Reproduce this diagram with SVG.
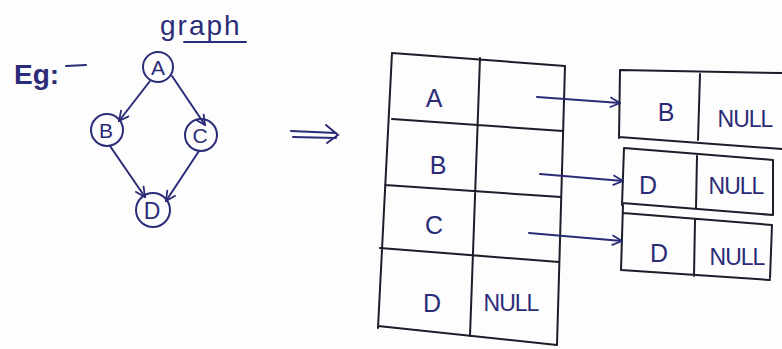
<svg xmlns="http://www.w3.org/2000/svg" width="782" height="349" viewBox="0 0 782 349">
<defs>
<style>
.ink{fill:none;stroke:#2b2c78;stroke-width:2;stroke-linecap:round}
.pen{fill:none;stroke:#1c1c2a;stroke-width:2;stroke-linecap:round}
.t{font-family:"Liberation Sans",Arial,sans-serif;fill:#2b2c78}
.big{font-size:25px}
.nul{font-size:23px;letter-spacing:-1px}
</style>
<marker id="ah" viewBox="0 0 12 12" refX="11" refY="6" markerWidth="12" markerHeight="12" markerUnits="userSpaceOnUse" orient="auto">
<path d="M1,1 L11,6 L1,11" fill="none" stroke="#2b2c78" stroke-width="1.8"/>
</marker>
</defs>
<rect width="782" height="349" fill="#fdfdfd"/>
<text class="t" x="14" y="84" font-size="28" font-weight="bold">Eg:</text>
<path class="ink" d="M66,66 L86,65"/>
<text class="t" x="160" y="35" font-size="28" letter-spacing="2">graph</text>
<path class="ink" d="M184,42 L246,42"/>

<g id="node-A"><circle class="ink" cx="158" cy="67" r="15"/><text class="t" x="158" y="75" font-size="21" text-anchor="middle">A</text></g>
<g id="node-B"><circle class="ink" cx="107" cy="130" r="16"/><text class="t" x="106" y="138" font-size="21" text-anchor="middle">B</text></g>
<g id="node-C"><circle class="ink" cx="201" cy="135" r="16"/><text class="t" x="200" y="143" font-size="21" text-anchor="middle">C</text></g>
<g id="node-D"><circle class="ink" cx="153" cy="210" r="17"/><text class="t" x="152" y="219" font-size="23" text-anchor="middle">D</text></g>

<g id="table">
<path class="pen" d="M392,53 L565,66 M392,53 L378,328 M480,58 L470,336 M565,66 L557,345 M392,119 L563,131 M385,185 L561,197 M380,248 L559,262 M378,326 L557,345"/>
<text class="t big" x="434" y="107" text-anchor="middle">A</text>
<text class="t big" x="438" y="174" text-anchor="middle">B</text>
<text class="t big" x="434" y="234" text-anchor="middle">C</text>
<text class="t big" x="432" y="312" text-anchor="middle">D</text>
<text class="t nul" x="511" y="311" text-anchor="middle">NULL</text>
</g>

<g id="list-B">
<path class="pen" d="M620,70 L782,73 M620,70 L619,138 M619,137 L782,149 M700,74 L698,140"/>
<text class="t big" x="666" y="121" text-anchor="middle">B</text>
<text class="t nul" x="745" y="127" text-anchor="middle">NULL</text>
</g>
<g id="list-D1">
<path class="pen" d="M624,148 L773,160 M624,148 L622,205 M773,160 L773,214 M622,203 L773,215 M697,156 L696,208"/>
<text class="t big" x="648" y="194" text-anchor="middle">D</text>
<text class="t nul" x="736" y="194" text-anchor="middle">NULL</text>
</g>
<g id="list-D2">
<path class="pen" d="M623,213 L772,225 M623,205 L621,270 M772,225 L770,278 M621,270 L770,280 M695,220 L694,276"/>
<text class="t big" x="659" y="262" text-anchor="middle">D</text>
<text class="t nul" x="737" y="265" text-anchor="middle">NULL</text>
</g>

<g id="connectors">
<path class="ink" d="M150,81 L119,121" marker-end="url(#ah)"/>
<path class="ink" d="M172,76 L205,125" marker-end="url(#ah)"/>
<path class="ink" d="M110,146 L145,197" marker-end="url(#ah)"/>
<path class="ink" d="M199,151 L166,201" marker-end="url(#ah)"/>
<path class="ink" d="M291,131 L336,133 M293,137 L336,138 M326,125 L338,135 L327,143" stroke-width="2.5"/>
<path class="ink" d="M537,97 L620,103" marker-end="url(#ah)"/>
<path class="ink" d="M540,174 L623,181" marker-end="url(#ah)"/>
<path class="ink" d="M529,233 L622,241" marker-end="url(#ah)"/>
</g>
</svg>
